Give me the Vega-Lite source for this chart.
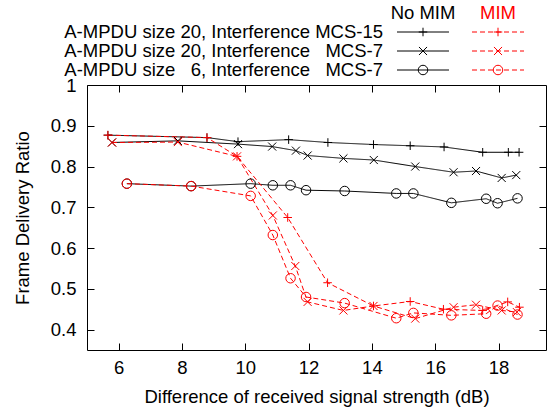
{
  "$schema": "https://vega.github.io/schema/vega-lite/v6.json",
  "width": 459,
  "height": 265,
  "autosize": {"type": "none"},
  "padding": {"left": 87, "top": 85, "right": 8, "bottom": 62},
  "background": "white",
  "config": {
    "font": "Liberation Sans",
    "view": {"stroke": "black", "strokeWidth": 1},
    "axis": {
      "grid": false,
      "domain": false,
      "labelFont": "Liberation Sans",
      "titleFont": "Liberation Sans",
      "labelFontSize": 18.5,
      "titleFontSize": 18.5,
      "titleFontWeight": "normal",
      "labelColor": "black",
      "titleColor": "black",
      "tickColor": "black",
      "tickWidth": 1
    }
  },
  "datasets": {
    "main": [
      {"cfg": "s20_15", "mim": "No MIM", "x": 5.66, "y": 0.877},
      {"cfg": "s20_15", "mim": "No MIM", "x": 8.79, "y": 0.871},
      {"cfg": "s20_15", "mim": "No MIM", "x": 9.77, "y": 0.861},
      {"cfg": "s20_15", "mim": "No MIM", "x": 11.37, "y": 0.866},
      {"cfg": "s20_15", "mim": "No MIM", "x": 12.61, "y": 0.859},
      {"cfg": "s20_15", "mim": "No MIM", "x": 14.05, "y": 0.854},
      {"cfg": "s20_15", "mim": "No MIM", "x": 15.21, "y": 0.851},
      {"cfg": "s20_15", "mim": "No MIM", "x": 16.28, "y": 0.848},
      {"cfg": "s20_15", "mim": "No MIM", "x": 17.5, "y": 0.835},
      {"cfg": "s20_15", "mim": "No MIM", "x": 18.31, "y": 0.835},
      {"cfg": "s20_15", "mim": "No MIM", "x": 18.65, "y": 0.835},
      {"cfg": "s20_7", "mim": "No MIM", "x": 5.79, "y": 0.859},
      {"cfg": "s20_7", "mim": "No MIM", "x": 7.87, "y": 0.863},
      {"cfg": "s20_7", "mim": "No MIM", "x": 9.77, "y": 0.855},
      {"cfg": "s20_7", "mim": "No MIM", "x": 10.85, "y": 0.849},
      {"cfg": "s20_7", "mim": "No MIM", "x": 11.6, "y": 0.839},
      {"cfg": "s20_7", "mim": "No MIM", "x": 11.97, "y": 0.827},
      {"cfg": "s20_7", "mim": "No MIM", "x": 13.1, "y": 0.82},
      {"cfg": "s20_7", "mim": "No MIM", "x": 14.06, "y": 0.816},
      {"cfg": "s20_7", "mim": "No MIM", "x": 15.37, "y": 0.8},
      {"cfg": "s20_7", "mim": "No MIM", "x": 16.58, "y": 0.786},
      {"cfg": "s20_7", "mim": "No MIM", "x": 17.29, "y": 0.789},
      {"cfg": "s20_7", "mim": "No MIM", "x": 18.1, "y": 0.772},
      {"cfg": "s20_7", "mim": "No MIM", "x": 18.56, "y": 0.779},
      {"cfg": "s6_7", "mim": "No MIM", "x": 6.26, "y": 0.758},
      {"cfg": "s6_7", "mim": "No MIM", "x": 8.29, "y": 0.752},
      {"cfg": "s6_7", "mim": "No MIM", "x": 10.17, "y": 0.758},
      {"cfg": "s6_7", "mim": "No MIM", "x": 10.87, "y": 0.754},
      {"cfg": "s6_7", "mim": "No MIM", "x": 11.43, "y": 0.754},
      {"cfg": "s6_7", "mim": "No MIM", "x": 11.92, "y": 0.742},
      {"cfg": "s6_7", "mim": "No MIM", "x": 13.14, "y": 0.74},
      {"cfg": "s6_7", "mim": "No MIM", "x": 14.77, "y": 0.734},
      {"cfg": "s6_7", "mim": "No MIM", "x": 15.31, "y": 0.734},
      {"cfg": "s6_7", "mim": "No MIM", "x": 16.51, "y": 0.711},
      {"cfg": "s6_7", "mim": "No MIM", "x": 17.61, "y": 0.721},
      {"cfg": "s6_7", "mim": "No MIM", "x": 17.97, "y": 0.71},
      {"cfg": "s6_7", "mim": "No MIM", "x": 18.6, "y": 0.722},
      {"cfg": "s20_15", "mim": "MIM", "x": 5.66, "y": 0.877},
      {"cfg": "s20_15", "mim": "MIM", "x": 8.79, "y": 0.871},
      {"cfg": "s20_15", "mim": "MIM", "x": 9.74, "y": 0.825},
      {"cfg": "s20_15", "mim": "MIM", "x": 11.34, "y": 0.675},
      {"cfg": "s20_15", "mim": "MIM", "x": 12.6, "y": 0.515},
      {"cfg": "s20_15", "mim": "MIM", "x": 14.05, "y": 0.458},
      {"cfg": "s20_15", "mim": "MIM", "x": 15.21, "y": 0.469},
      {"cfg": "s20_15", "mim": "MIM", "x": 16.26, "y": 0.45},
      {"cfg": "s20_15", "mim": "MIM", "x": 17.5, "y": 0.447},
      {"cfg": "s20_15", "mim": "MIM", "x": 18.29, "y": 0.468},
      {"cfg": "s20_15", "mim": "MIM", "x": 18.66, "y": 0.455},
      {"cfg": "s20_7", "mim": "MIM", "x": 5.79, "y": 0.859},
      {"cfg": "s20_7", "mim": "MIM", "x": 7.87, "y": 0.86},
      {"cfg": "s20_7", "mim": "MIM", "x": 9.74, "y": 0.825},
      {"cfg": "s20_7", "mim": "MIM", "x": 10.87, "y": 0.68},
      {"cfg": "s20_7", "mim": "MIM", "x": 11.58, "y": 0.556},
      {"cfg": "s20_7", "mim": "MIM", "x": 11.97, "y": 0.468},
      {"cfg": "s20_7", "mim": "MIM", "x": 13.1, "y": 0.447},
      {"cfg": "s20_7", "mim": "MIM", "x": 14.05, "y": 0.458},
      {"cfg": "s20_7", "mim": "MIM", "x": 15.37, "y": 0.427},
      {"cfg": "s20_7", "mim": "MIM", "x": 16.58, "y": 0.455},
      {"cfg": "s20_7", "mim": "MIM", "x": 17.29, "y": 0.461},
      {"cfg": "s20_7", "mim": "MIM", "x": 18.1, "y": 0.447},
      {"cfg": "s20_7", "mim": "MIM", "x": 18.58, "y": 0.443},
      {"cfg": "s6_7", "mim": "MIM", "x": 6.26, "y": 0.758},
      {"cfg": "s6_7", "mim": "MIM", "x": 8.29, "y": 0.752},
      {"cfg": "s6_7", "mim": "MIM", "x": 10.17, "y": 0.728},
      {"cfg": "s6_7", "mim": "MIM", "x": 10.87, "y": 0.632},
      {"cfg": "s6_7", "mim": "MIM", "x": 11.43, "y": 0.526},
      {"cfg": "s6_7", "mim": "MIM", "x": 11.92, "y": 0.48},
      {"cfg": "s6_7", "mim": "MIM", "x": 13.14, "y": 0.465},
      {"cfg": "s6_7", "mim": "MIM", "x": 14.77, "y": 0.428},
      {"cfg": "s6_7", "mim": "MIM", "x": 15.31, "y": 0.441},
      {"cfg": "s6_7", "mim": "MIM", "x": 16.51, "y": 0.435},
      {"cfg": "s6_7", "mim": "MIM", "x": 17.61, "y": 0.439},
      {"cfg": "s6_7", "mim": "MIM", "x": 17.97, "y": 0.459},
      {"cfg": "s6_7", "mim": "MIM", "x": 18.6, "y": 0.437}
    ],
    "legendHeader": [
      {"cfg": "h", "mim": "No MIM"},
      {"cfg": "h", "mim": "MIM"}
    ],
    "legendLabels": [
      {"cfg": "s20_15", "mim": "label", "label": "A-MPDU size 20, Interference MCS-15"},
      {"cfg": "s20_7", "mim": "label", "label": "A-MPDU size 20, Interference\u00a0\u00a0 MCS-7"},
      {"cfg": "s6_7", "mim": "label", "label": "A-MPDU size\u00a0\u00a0 6, Interference\u00a0\u00a0 MCS-7"}
    ],
    "legendKeys": [
      {"cfg": "s20_15", "mim": "No MIM"},
      {"cfg": "s20_7", "mim": "No MIM"},
      {"cfg": "s6_7", "mim": "No MIM"},
      {"cfg": "s20_15", "mim": "MIM"},
      {"cfg": "s20_7", "mim": "MIM"},
      {"cfg": "s6_7", "mim": "MIM"}
    ],
    "legendLines": [
      {"cfg": "s20_15", "mim": "No MIM", "end": "a"},
      {"cfg": "s20_15", "mim": "No MIM", "end": "b"},
      {"cfg": "s20_7", "mim": "No MIM", "end": "a"},
      {"cfg": "s20_7", "mim": "No MIM", "end": "b"},
      {"cfg": "s6_7", "mim": "No MIM", "end": "a"},
      {"cfg": "s6_7", "mim": "No MIM", "end": "b"},
      {"cfg": "s20_15", "mim": "MIM", "end": "a"},
      {"cfg": "s20_15", "mim": "MIM", "end": "b"},
      {"cfg": "s20_7", "mim": "MIM", "end": "a"},
      {"cfg": "s20_7", "mim": "MIM", "end": "b"},
      {"cfg": "s6_7", "mim": "MIM", "end": "a"},
      {"cfg": "s6_7", "mim": "MIM", "end": "b"}
    ]
  },
  "layer": [
    {
      "data": {"name": "main"},
      "layer": [
        {
          "mark": {"type": "line", "strokeWidth": 1},
          "encoding": {
            "x": {
              "field": "x", "type": "quantitative",
              "scale": {"domain": [5, 19.5], "nice": false, "zero": false},
              "axis": {
                "orient": "bottom",
                "values": [6, 8, 10, 12, 14, 16, 18],
                "title": "Difference of received signal strength (dB)",
                "tickSize": -7,
                "labelPadding": 15,
                "labelFlush": false,
                "titleY": 52,
                "titleBaseline": "alphabetic"
              }
            },
            "y": {
              "field": "y", "type": "quantitative",
              "scale": {"domain": [0.35, 1], "nice": false, "zero": false},
              "axis": {
                "orient": "left",
                "values": [0.4, 0.5, 0.6, 0.7, 0.8, 0.9, 1],
                "format": "~g",
                "title": "Frame Delivery Ratio",
                "tickSize": -7,
                "labelPadding": 18,
                "labelOverlap": false,
                "titleX": -65,
                "titleY": 132.5,
                "titleBaseline": "middle",
                "titleAlign": "center"
              }
            },
            "color": {
              "field": "mim", "type": "nominal",
              "scale": {"domain": ["No MIM", "MIM"], "range": ["#000000", "#ff0000"]},
              "legend": null
            },
            "strokeDash": {
              "field": "mim", "type": "nominal",
              "scale": {"domain": ["No MIM", "MIM"], "range": [[1, 0], [5, 3]]},
              "legend": null
            },
            "detail": {"field": "cfg", "type": "nominal"}
          }
        },
        {
          "mark": {"type": "point", "filled": false, "strokeWidth": 1, "size": 90, "opacity": 1},
          "encoding": {
            "x": {
              "field": "x", "type": "quantitative",
              "axis": {
                "orient": "top",
                "values": [6, 8, 10, 12, 14, 16, 18],
                "labels": false,
                "title": null,
                "tickSize": -7
              }
            },
            "y": {
              "field": "y", "type": "quantitative",
              "axis": {
                "orient": "right",
                "values": [0.4, 0.5, 0.6, 0.7, 0.8, 0.9],
                "labels": false,
                "title": null,
                "tickSize": -7
              }
            },
            "color": {"field": "mim", "type": "nominal", "legend": null},
            "shape": {
              "field": "cfg", "type": "nominal",
              "scale": {
                "domain": ["s20_15", "s20_7", "s6_7"],
                "range": ["M-0.9,0H0.9M0,-0.9V0.9", "M-0.85,-0.85L0.85,0.85M-0.85,0.85L0.85,-0.85", "circle"]
              },
              "legend": null
            }
          }
        }
      ]
    },
    {
      "layer": [
        {
          "data": {"name": "legendHeader"},
          "mark": {"type": "text", "fontSize": 18.5, "align": "center", "baseline": "middle"},
          "encoding": {
            "x": {
              "field": "mim", "type": "nominal",
              "scale": {"type": "band", "domain": ["label", "No MIM", "MIM"], "range": [235, 437], "paddingInner": 0.3067, "paddingOuter": 0},
              "axis": null
            },
            "y": {
              "field": "cfg", "type": "nominal",
              "scale": {"type": "point", "domain": ["h", "s20_15", "s20_7", "s6_7"], "range": [-72, -15], "padding": 0},
              "axis": null
            },
            "text": {"field": "mim"},
            "color": {"field": "mim", "type": "nominal", "legend": null}
          }
        },
        {
          "data": {"name": "legendLabels"},
          "mark": {"type": "text", "fontSize": 18.5, "align": "right", "baseline": "middle", "dx": 35, "color": "black"},
          "encoding": {
            "x": {"field": "mim", "type": "nominal", "axis": null},
            "y": {"field": "cfg", "type": "nominal", "axis": null},
            "text": {"field": "label"}
          }
        },
        {
          "data": {"name": "legendLines"},
          "mark": {"type": "line", "strokeWidth": 1},
          "encoding": {
            "x": {"field": "mim", "type": "nominal", "axis": null},
            "xOffset": {"field": "end", "type": "nominal", "scale": {"type": "point", "padding": 0}},
            "y": {"field": "cfg", "type": "nominal", "axis": null},
            "color": {"field": "mim", "type": "nominal", "legend": null},
            "strokeDash": {"field": "mim", "type": "nominal", "legend": null},
            "detail": {"field": "cfg", "type": "nominal"}
          }
        },
        {
          "data": {"name": "legendKeys"},
          "mark": {"type": "point", "filled": false, "strokeWidth": 1, "size": 90, "opacity": 1},
          "encoding": {
            "x": {"field": "mim", "type": "nominal", "axis": null},
            "y": {"field": "cfg", "type": "nominal", "axis": null},
            "color": {"field": "mim", "type": "nominal", "legend": null},
            "shape": {"field": "cfg", "type": "nominal", "legend": null}
          }
        }
      ]
    }
  ],
  "resolve": {"scale": {"x": "independent", "y": "independent"}}
}
